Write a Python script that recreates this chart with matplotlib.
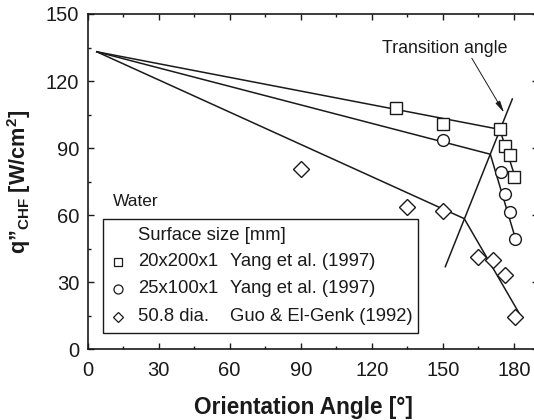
import matplotlib
matplotlib.use('Agg')
import matplotlib.pyplot as plt
from matplotlib.patches import Rectangle
from matplotlib.ticker import MultipleLocator

plt.rcParams['font.family'] = ['Liberation Sans', 'DejaVu Sans']
plt.rcParams['mathtext.fontset'] = 'custom'
plt.rcParams['mathtext.rm'] = 'Liberation Sans:bold'
plt.rcParams['mathtext.bf'] = 'Liberation Sans:bold'

# measured data (angle in deg, CHF in W/cm2)
sq_x = [130, 150, 174, 176, 178.5, 180]
sq_y = [108, 101, 98.4, 91, 87, 77.2]
ci_x = [150, 174.5, 176.4, 178.3, 180.5]
ci_y = [93.6, 79.4, 69.4, 61.5, 49.2]
di_x = [90, 135, 150, 165, 171, 176, 180.3]
di_y = [80.9, 63.7, 62, 41.3, 39.9, 33.1, 14.4]

# correlation lines (broken at transition angle)
fit_sq_x = [3.9, 174, 180.5]
fit_sq_y = [133.1, 98.4, 77]
fit_ci_x = [3.9, 170, 180.7]
fit_ci_y = [133.1, 87.3, 49.3]
fit_di_x = [3.9, 159, 183]
fit_di_y = [133.1, 58.5, 14.7]
trans_x = [151, 179.3]
trans_y = [37, 112]

sizes = ['20x200x1', '25x100x1', '50.8 dia.']
sources = ['Yang et al. (1997)', 'Yang et al. (1997)', 'Guo & El-Genk (1992)']
markers = ['s', 'o', 'D']

fig = plt.figure(figsize=(5.34, 4.2), dpi=100)
ax = fig.add_axes([0.1639, 0.1679, 0.843, 0.7988])

lw = 1.1
for fx, fy in [(fit_sq_x, fit_sq_y), (fit_ci_x, fit_ci_y), (fit_di_x, fit_di_y), (trans_x, trans_y)]:
    ax.plot(fx, fy, color='#1a1a1a', lw=lw, zorder=2)

mk = dict(mfc='white', mec='#1a1a1a', mew=1.0, ls='none', zorder=3)
ax.plot(sq_x, sq_y, marker='s', ms=8, **mk)
ax.plot(ci_x, ci_y, marker='o', ms=8.5, **mk)
ax.plot(di_x, di_y, marker='D', ms=8.2, **mk)

ax.annotate('', xy=(175.8, 105.9), xytext=(162.2, 130.2),
            arrowprops=dict(arrowstyle='-|>,head_length=0.7,head_width=0.15',
                            color='#1a1a1a', lw=0.7, shrinkA=0, shrinkB=0))
ax.text(150.9, 134.7, 'Transition angle', fontsize=12.8, ha='center', va='center', color='#1a1a1a')
ax.text(10.9, 66.1, 'Water', fontsize=12.5, ha='left', va='center', color='#1a1a1a')

# legend box drawn by hand to keep the two text columns
ax.add_patch(Rectangle((0.0337, 0.048), 0.70, 0.341, transform=ax.transAxes,
                       fill=False, ec='#1a1a1a', lw=1.0, zorder=4))
fs = 13.3
ax.text(0.1116, 0.341, 'Surface size [mm]', transform=ax.transAxes, fontsize=fs,
        va='center', color='#1a1a1a')
rows = [0.262, 0.181, 0.098]
lms = [5.8, 6.5, 5.6]
for i in range(3):
    ax.plot([0.0668], [rows[i]], marker=markers[i], ms=lms[i], mfc='white',
            mec='#1a1a1a', mew=0.9, transform=ax.transAxes, clip_on=False)
    ax.text(0.1116, rows[i], sizes[i], transform=ax.transAxes, fontsize=fs,
            va='center', color='#1a1a1a')
    ax.text(0.317, rows[i], sources[i], transform=ax.transAxes, fontsize=fs,
            va='center', color='#1a1a1a')

ax.set_xlim(0, 190)
ax.set_ylim(0, 150)
ax.xaxis.set_minor_locator(MultipleLocator(15))
ax.yaxis.set_major_locator(MultipleLocator(30))
ax.yaxis.set_minor_locator(MultipleLocator(15))
ax.set_xticks([0, 30, 60, 90, 120, 150, 180])
ax.tick_params(which='both', direction='in', top=True, right=True, width=1.0, color='#1a1a1a')
ax.tick_params(which='major', length=4.5, labelsize=14.5, labelcolor='#1a1a1a')
ax.tick_params(axis='x', which='major', pad=8)
ax.tick_params(axis='y', which='major', pad=6)
ax.tick_params(which='minor', length=2.5)
for s in ax.spines.values():
    s.set_linewidth(1.2)
    s.set_color('#1a1a1a')

ax.set_xlabel('Orientation Angle [°]', fontsize=16.3, fontweight='bold', color='#1a1a1a')
ax.xaxis.set_label_coords(0.479, -0.14)
ax.set_ylabel('q”$_{\\mathbf{CHF}}$ [W/cm$^{\\mathbf{2}}$]', fontsize=15.6,
              fontweight='bold', color='#1a1a1a')
ax.yaxis.set_label_coords(-0.121, 0.5)

fig.savefig('out.png', dpi=100)
